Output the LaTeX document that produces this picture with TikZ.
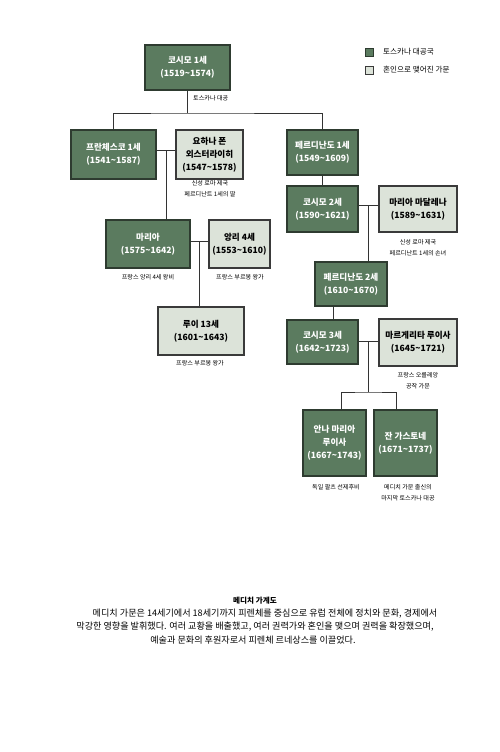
\documentclass[tikz,border=0pt]{standalone}
\usepackage{fontspec}
\setmainfont{Noto Sans CJK KR}
\definecolor{dgreen}{HTML}{5B7B5F}
\definecolor{dborder}{HTML}{2E3B30}
\definecolor{lfill}{HTML}{DCE3D9}
\definecolor{lborder}{HTML}{3A3A3A}
\definecolor{lineg}{HTML}{333333}
\tikzset{
  base/.style={draw, line width=1.1pt, align=center, inner sep=0pt, font=\fontsize{8.6}{13}\selectfont\bfseries},
  dark/.style={base, fill=dgreen, draw=dborder, text=white},
  light/.style={base, fill=lfill, draw=lborder, text=black},
  conn/.style={draw=lineg, line width=1pt},
  note/.style={font=\fontsize{6.1}{10.5}\selectfont, align=center, inner sep=0pt, text=black},
  leg/.style={font=\fontsize{7.6}{9}\selectfont, anchor=west, inner sep=0pt},
  body/.style={font=\fontsize{9.1}{10}\selectfont, inner sep=0pt},
}
\begin{document}
\begin{tikzpicture}[x=1pt,y=-1pt]
\useasboundingbox (0,0) rectangle (500,752);
\fill[white] (0,0) rectangle (500,752);
% boxes
\node[dark, minimum width=85, minimum height=45] (c1) at (187.5,67.5) {코시모 1세\\(1519\textasciitilde1574)};
\node[dark, minimum width=85, minimum height=49] (fr) at (113.5,154.5) {프란체스코 1세\\(1541\textasciitilde1587)};
\node[light, minimum width=67, minimum height=49] (jo) at (209.5,154.5) {요하나 폰\\외스터라이히\\(1547\textasciitilde1578)};
\node[dark, minimum width=71, minimum height=45] (f1) at (322.5,152.5) {페르디난도 1세\\(1549\textasciitilde1609)};
\node[dark, minimum width=71, minimum height=46] (c2) at (322.5,209) {코시모 2세\\(1590\textasciitilde1621)};
\node[light, minimum width=78, minimum height=46] (md) at (418,209) {마리아 마달레나\\(1589\textasciitilde1631)};
\node[dark, minimum width=84, minimum height=48] (ma) at (148,244) {마리아\\(1575\textasciitilde1642)};
\node[light, minimum width=61, minimum height=48] (he) at (239.5,244) {앙리 4세\\(1553\textasciitilde1610)};
\node[light, minimum width=86, minimum height=48] (lo) at (201,331) {루이 13세\\(1601\textasciitilde1643)};
\node[dark, minimum width=72, minimum height=44] (f2) at (351,284) {페르디난도 2세\\(1610\textasciitilde1670)};
\node[dark, minimum width=71, minimum height=44] (c3) at (322.5,342) {코시모 3세\\(1642\textasciitilde1723)};
\node[light, minimum width=78, minimum height=47] (mg) at (418,342.5) {마르게리타 루이사\\(1645\textasciitilde1721)};
\node[dark, minimum width=63, minimum height=66] (an) at (334.5,443) {안나 마리아\\루이사\\(1667\textasciitilde1743)};
\node[dark, minimum width=63, minimum height=66] (gs) at (405.5,443) {잔 가스토네\\(1671\textasciitilde1737)};
% connector points
\coordinate (t1) at (187.5,113);
\coordinate (m1) at (166,150);
\coordinate (m2) at (199,241);
\coordinate (m3) at (368,205);
\coordinate (m4) at (368,341);
\coordinate (m4b) at (368,392);
% connectors
\draw[conn] (c1.south) -- (t1);
\draw[conn] (fr.north) |- (t1) -| (f1.north);
\draw[conn] (fr.east |- m1) -- (jo.west |- m1);
\draw[conn] (m1) -- (m1 |- ma.north);
\draw[conn] (ma.east |- m2) -- (he.west |- m2);
\draw[conn] (m2) -- (m2 |- lo.north);
\draw[conn] (f1.south) -- (c2.north);
\draw[conn] (c2.east |- m3) -- (md.west |- m3);
\draw[conn] (m3) -- (m3 |- f2.north);
\draw[conn] (f2.south -| 333,0) -- (c3.north -| 333,0);
\draw[conn] (c3.east |- m4) -- (mg.west |- m4);
\draw[conn] (m4) -- (m4b);
\draw[conn] (an.north -| 341,0) |- (m4b) -| (gs.north -| 396,0);
% notes
\node[note, anchor=west] (n0) at (193,98) {토스카나 대공};
\node[note] (n1) at (210,188.5) {신성 로마 제국\\페르디난트 1세의 딸};
\node[note] (n2) at (148,277) {프랑스 앙리 4세 왕비};
\node[note] (n3) at (240,277) {프랑스 부르봉 왕가};
\node[note] (n4) at (200,363) {프랑스 부르봉 왕가};
\node[note] (n5) at (418,247.5) {신성 로마 제국\\페르디난트 1세의 손녀};
\node[note] (n6) at (418,380.5) {프랑스 오를레앙\\공작 가문};
\node[note] (n7) at (336,487) {독일 팔츠 선제후비};
\node[note] (n8) at (408,492.5) {메디치 가문 출신의\\마지막 토스카나 대공};
% legend
\node[draw=dborder, fill=dgreen, line width=0.9pt, minimum size=8, inner sep=0pt] (l1) at (369,52) {};
\node[draw=lborder, fill=lfill, line width=0.9pt, minimum size=8, inner sep=0pt] (l2) at (369,70) {};
\node[leg] (lt1) at (383,52) {토스카나 대공국};
\node[leg] (lt2) at (383,70) {혼인으로 맺어진 가문};
% caption
\node[font=\fontsize{7.6}{9}\selectfont\bfseries, inner sep=0pt] (ttl) at (255,601) {메디치 가계도};
\node[body] (b1) at (265,613.5) {메디치 가문은 14세기에서 18세기까지 피렌체를 중심으로 유럽 전체에 정치와 문화, 경제에서};
\node[body] (b2) at (255,627) {막강한 영향을 발휘했다. 여러 교황을 배출했고, 여러 권력가와 혼인을 맺으며 권력을 확장했으며,};
\node[body] (b3) at (253,640.5) {예술과 문화의 후원자로서 피렌체 르네상스를 이끌었다.};
\end{tikzpicture}
\end{document}
